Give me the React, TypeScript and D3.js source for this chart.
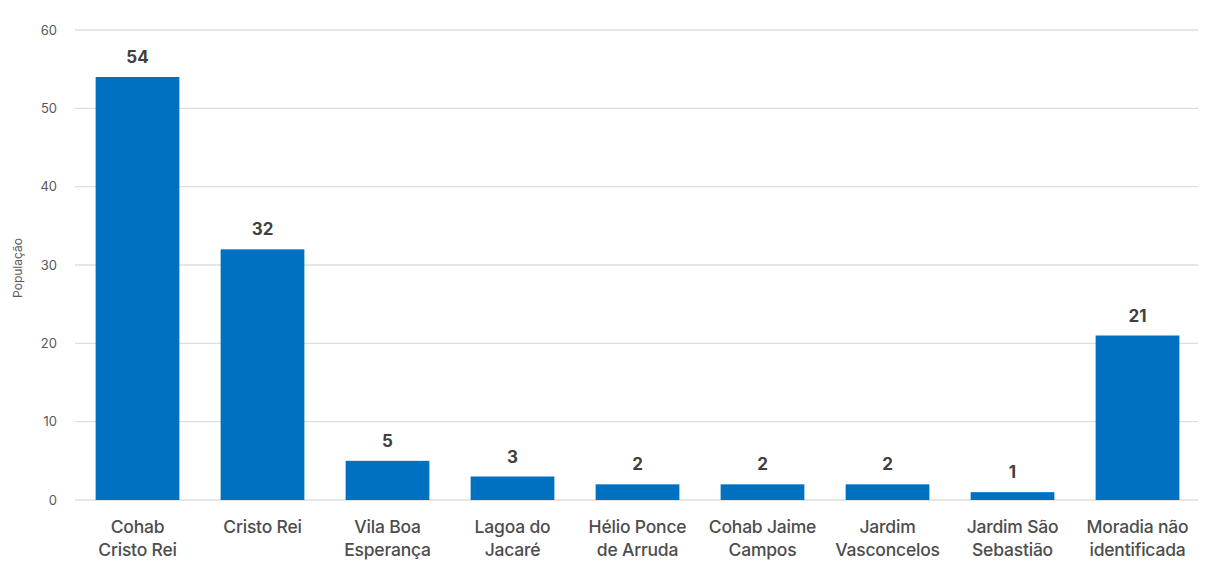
import React from "react";
import * as d3 from "d3";

const categories = [
  ["Cohab", "Cristo Rei"],
  ["Cristo Rei"],
  ["Vila Boa", "Esperança"],
  ["Lagoa do", "Jacaré"],
  ["Hélio Ponce", "de Arruda"],
  ["Cohab Jaime", "Campos"],
  ["Jardim", "Vasconcelos"],
  ["Jardim São", "Sebastião"],
  ["Moradia não", "identificada"],
];
const values = [54, 32, 5, 3, 2, 2, 2, 1, 21];
const yTicks = [0, 10, 20, 30, 40, 50, 60];
const yLabel = "População";

export default function App() {
  const W = 1208, H = 561;
  const x = d3.scaleBand<number>().domain(d3.range(values.length)).range([75, 1200]).paddingInner(0.33).paddingOuter(0.165);
  const y = d3.scaleLinear().domain([0, 60]).range([500, 30]);
  const font = "Inter, 'Open Sans', sans-serif";
  return (
    <svg width={W} height={H} style={{ position: "absolute", left: 0, top: 0, background: "#fff" }}>
      {yTicks.map((t) => (
        <g key={t}>
          <line x1={75} x2={1198} y1={y(t)} y2={y(t)} stroke="#dedede" strokeWidth={1.3} />
          <text x={57} y={y(t)} dy="0.35em" textAnchor="end" fontSize={13} fill="#595959" fontFamily={font}>{t}</text>
        </g>
      ))}
      <text transform={`translate(22,${268}) rotate(-90)`} textAnchor="middle" fontSize={12} fill="#595959" fontFamily={font}>{yLabel}</text>
      {values.map((v, i) => (
        <g key={i}>
          <rect x={x(i)} y={y(v)} width={x.bandwidth()} height={y(0) - y(v)} fill="#0070C0" />
          <text x={x(i)! + x.bandwidth() / 2} y={y(v) - 14} textAnchor="middle" fontSize={17} fontWeight="bold" fill="#404040" fontFamily={font}>{v}</text>
          {categories[i].map((line, j) => (
            <text key={j} x={x(i)! + x.bandwidth() / 2} y={533 + j * 23} textAnchor="middle" fontSize={17.5} fontWeight={500} fill="#4d4d4d" fontFamily={font} letterSpacing={-0.2}>{line}</text>
          ))}
        </g>
      ))}
    </svg>
  );
}
